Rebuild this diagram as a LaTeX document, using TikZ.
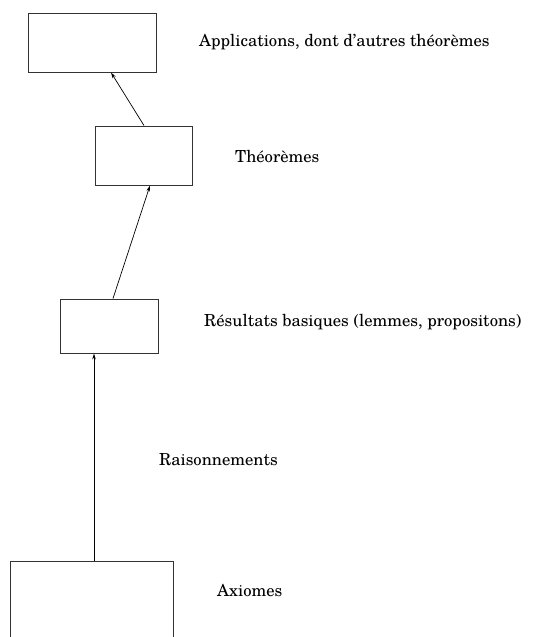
\documentclass[tikz,border=0pt]{standalone}
\usepackage{fontspec}
\setmainfont{TeX Gyre Schola}
\usetikzlibrary{arrows.meta}
\begin{document}
\begin{tikzpicture}[x=1pt,y=-1pt,
  boite/.style={draw=black!80,line width=0.9pt,rectangle,inner sep=0pt,fill=white},
  fleche/.style={-{Stealth[length=6pt,width=3.5pt]},line width=0.7pt},
  etiquette/.style={anchor=west,inner sep=0pt,font=\fontsize{16.6}{20}\selectfont}]
\useasboundingbox (0,0) rectangle (542,637);
\clip (0,0) rectangle (542,637);
\node[boite,minimum width=128pt,minimum height=59pt] (b1) at (92,42.5) {};
\node[boite,minimum width=97pt,minimum height=59pt] (b2) at (143.5,155.5) {};
\node[boite,minimum width=98pt,minimum height=54pt] (b3) at (109,326) {};
\node[boite,minimum width=163pt,minimum height=100pt] (b4) at (91.5,611) {};
\node[etiquette] (t1) at (199,42) {Applications, dont d'autres théorèmes};
\node[etiquette] (t2) at (235,157) {Théorèmes};
\node[etiquette] (t3) at (204,322) {Résultats basiques (lemmes, propositons)};
\node[etiquette] (t4) at (159,460) {Raisonnements};
\node[etiquette] (t5) at (217,591) {Axiomes};
\draw[fleche] ([xshift=0.5pt]b2.north) -- ([xshift=19pt]b1.south);
\draw[fleche] ([xshift=4pt]b3.north) -- ([xshift=6.5pt]b2.south);
\draw[fleche] ([xshift=2.5pt]b4.north) -- ([xshift=-15pt]b3.south);
\end{tikzpicture}
\end{document}
